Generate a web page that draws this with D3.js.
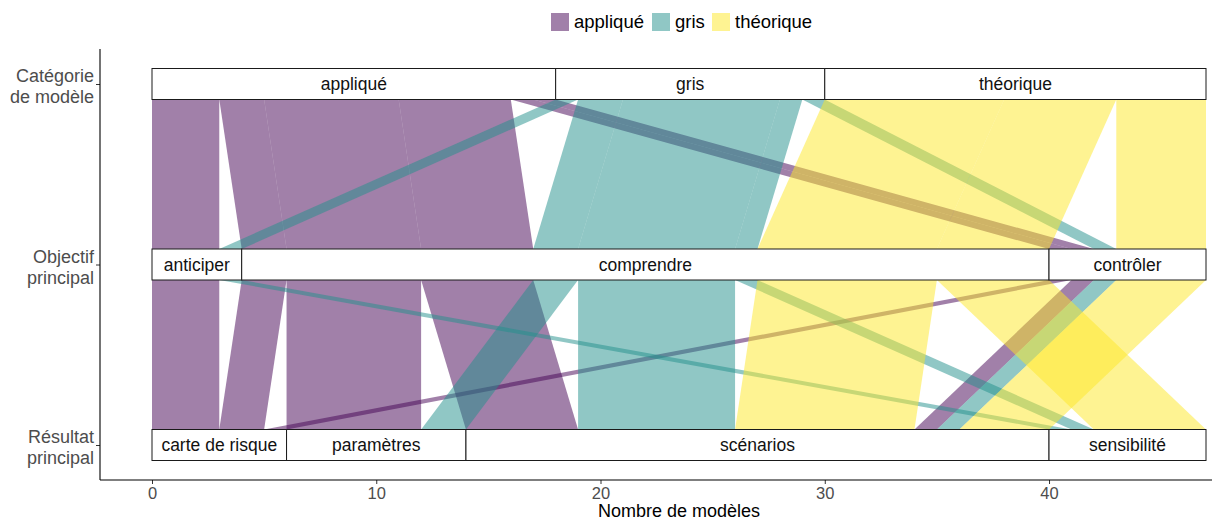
<!DOCTYPE html>
<html>
<head>
<meta charset="utf-8">
<script src="https://cdn.jsdelivr.net/npm/d3@7"></script>
<style>
    body { margin: 0; background: #fff; }
    svg { font-family: "Liberation Sans", Arial, sans-serif; display: block; }
</style>
</head>
<body>
<svg width="1212" height="521"></svg>
<script>
// axes of the alluvial plot (top to bottom)
var axes = ["Catégorie de modèle", "Objectif principal", "Résultat principal"];
var axisLines = [["Catégorie", "de modèle"], ["Objectif", "principal"], ["Résultat", "principal"]];

// strata of each axis
var categories = ["appliqué", "gris", "théorique"];
var objectifs = ["anticiper", "comprendre", "contrôler"];
var resultats = ["carte de risque", "paramètres", "scénarios", "sensibilité"];

// one entry per alluvium: category, objective, result, number of models
var flowCat = ["appliqué", "appliqué", "appliqué", "appliqué", "appliqué", "appliqué",
               "gris", "gris", "gris", "gris", "gris",
               "théorique", "théorique", "théorique"];
var flowObj = ["anticiper", "comprendre", "comprendre", "comprendre", "contrôler", "contrôler",
               "anticiper", "comprendre", "comprendre", "comprendre", "contrôler",
               "comprendre", "comprendre", "contrôler"];
var flowRes = ["carte de risque", "carte de risque", "paramètres", "scénarios", "carte de risque", "scénarios",
               "sensibilité", "paramètres", "scénarios", "sensibilité", "scénarios",
               "scénarios", "sensibilité", "scénarios"];
var flowN = [3, 2, 6, 5, 1, 1,
             1, 2, 7, 1, 1,
             8, 5, 4];

var xTicks = [0, 10, 20, 30, 40];

window.onload = function() {
    makeChart();
}

function makeChart() {
    var svg = d3.select("svg");

    var colors = d3.scaleOrdinal()
        .domain(categories)
        .range(["#440154", "#21908C", "#FDE725"]);

    var total = d3.sum(flowN);

    // count axis (horizontal after the flip)
    var x = d3.scaleLinear().domain([0, total]).range([152, 1206]);
    var y = d3.scalePoint().domain(axes).range([84, 445]);
    var boxH = 31;

    var flows = flowN.map(function(n, i) {
        return { cat: flowCat[i], obj: flowObj[i], res: flowRes[i], n: n, pos: [] };
    });

    // stack lodes on each axis, sorted by its own stratum then by the others
    var strataLists = [categories, objectifs, resultats];
    var keyOrder = [["cat", "obj", "res"], ["obj", "cat", "res"], ["res", "obj", "cat"]];
    var fieldList = { cat: categories, obj: objectifs, res: resultats };
    var strataPos = [];

    keyOrder.forEach(function(keys, a) {
        var sorted = flows.slice().sort(function(p, q) {
            for (var k = 0; k < keys.length; k++) {
                var l = fieldList[keys[k]];
                var d = l.indexOf(p[keys[k]]) - l.indexOf(q[keys[k]]);
                if (d !== 0) return d;
            }
            return 0;
        });
        var acc = 0;
        sorted.forEach(function(f) {
            f.pos[a] = [acc, acc + f.n];
            acc += f.n;
        });
        // strata extents
        var s = 0;
        strataPos[a] = strataLists[a].map(function(name) {
            var n = d3.sum(flows.filter(function(f) { return f[keys[0]] === name; }), function(f) { return f.n; });
            var r = { name: name, x0: s, x1: s + n };
            s += n;
            return r;
        });
    });

    // flows between consecutive axes
    var gFlows = svg.append("g");
    for (var a = 0; a < axes.length - 1; a++) {
        var yTop = y(axes[a]) + boxH / 2;
        var yBot = y(axes[a + 1]) - boxH / 2;
        gFlows.selectAll(".flow" + a)
            .data(flows)
            .enter().append("path")
            .attr("class", "flow" + a)
            .attr("d", function(f) {
                return "M" + x(f.pos[a][0]) + "," + yTop +
                    "L" + x(f.pos[a][1]) + "," + yTop +
                    "L" + x(f.pos[a + 1][1]) + "," + yBot +
                    "L" + x(f.pos[a + 1][0]) + "," + yBot + "Z";
            })
            .attr("fill", function(f) { return colors(f.cat); })
            .attr("fill-opacity", 0.5);
    }

    // strata boxes
    strataPos.forEach(function(list, a) {
        var g = svg.append("g");
        g.selectAll("rect")
            .data(list)
            .enter().append("rect")
            .attr("x", function(d) { return x(d.x0); })
            .attr("y", y(axes[a]) - boxH / 2)
            .attr("width", function(d) { return x(d.x1) - x(d.x0); })
            .attr("height", boxH)
            .attr("fill", "#fff")
            .attr("stroke", "#1a1a1a")
            .attr("stroke-width", 1);
        g.selectAll("text")
            .data(list)
            .enter().append("text")
            .attr("x", function(d) { return x((d.x0 + d.x1) / 2); })
            .attr("y", y(axes[a]))
            .attr("dy", "0.35em")
            .attr("text-anchor", "middle")
            .attr("font-size", 17.5)
            .attr("fill", "#111")
            .text(function(d) { return d.name; });
    });

    // bottom axis
    var gx = svg.append("g")
        .attr("transform", "translate(0,480)")
        .call(d3.axisBottom(x).tickValues(xTicks).tickSize(4).tickPadding(3));
    gx.select(".domain").remove();
    gx.selectAll(".tick line").attr("stroke", "#333");
    gx.selectAll(".tick text").attr("fill", "#4d4d4d").attr("font-size", 16.5).attr("font-family", null);
    svg.append("line")
        .attr("x1", 100).attr("x2", 1212)
        .attr("y1", 480).attr("y2", 480)
        .attr("stroke", "#000").attr("stroke-width", 1.1);

    // left axis
    var gy = svg.append("g")
        .attr("transform", "translate(100,0)")
        .call(d3.axisLeft(y).tickSize(4).tickPadding(4).tickFormat(""));
    gy.select(".domain").remove();
    gy.selectAll(".tick line").attr("stroke", "#333");
    svg.append("line")
        .attr("x1", 100).attr("x2", 100)
        .attr("y1", 49).attr("y2", 480)
        .attr("stroke", "#000").attr("stroke-width", 1.1);

    axes.forEach(function(ax, i) {
        var t = svg.append("text")
            .attr("text-anchor", "end")
            .attr("font-size", 18)
            .attr("fill", "#4d4d4d");
        axisLines[i].forEach(function(line, j) {
            t.append("tspan")
                .attr("x", 94)
                .attr("y", y(ax) - 2 + j * 21)
                .text(line);
        });
    });

    // x axis title
    svg.append("text")
        .attr("x", 679)
        .attr("y", 517)
        .attr("text-anchor", "middle")
        .attr("font-size", 18)
        .attr("fill", "#000")
        .text("Nombre de modèles");

    // legend
    var legendX = [551, 652, 712];
    var legend = svg.append("g");
    categories.forEach(function(c, i) {
        legend.append("rect")
            .attr("x", legendX[i]).attr("y", 13)
            .attr("width", 18).attr("height", 18)
            .attr("fill", colors(c)).attr("fill-opacity", 0.5);
        legend.append("text")
            .attr("x", legendX[i] + 23).attr("y", 22)
            .attr("dy", "0.35em")
            .attr("font-size", 18.5)
            .attr("fill", "#000")
            .text(c);
    });
}
</script>
</body>
</html>
